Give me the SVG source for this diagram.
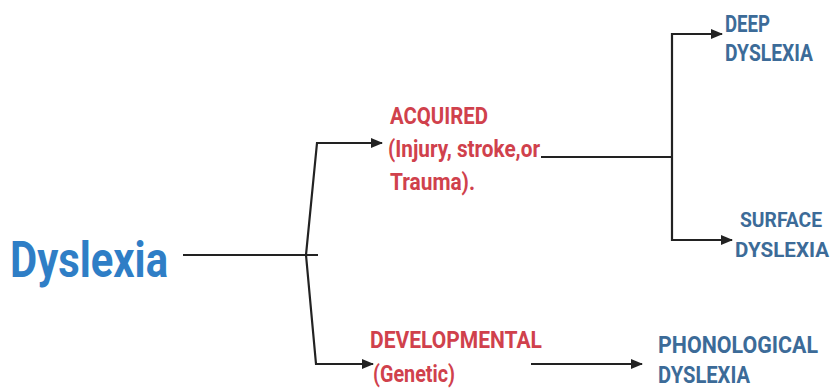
<svg xmlns="http://www.w3.org/2000/svg" width="836" height="388" viewBox="0 0 836 388">
<defs>
<style>
.t{font-family:Roboto,"Liberation Sans",sans-serif;font-weight:700;}
.red{fill:#d0414c;font-size:23px;}
.blue{fill:#3c6b98;font-size:23px;}
.sm{font-size:21px;}
.main{fill:#2f7ec6;font-size:50px;}
.ln{fill:none;stroke:#222;stroke-width:2.2;}
.arr{marker-end:url(#ah);}
</style>
<marker id="ah" markerWidth="12" markerHeight="10" refX="11" refY="5" orient="auto" markerUnits="userSpaceOnUse">
<path d="M0,0 L12,5 L0,10 Z" fill="#222"/>
</marker>
</defs>
<rect width="836" height="388" fill="#fff"/>
<g id="connectors">
<path class="ln" d="M183,255 L318,255"/>
<path class="ln arr" d="M306,255 L317,143 L382,143"/>
<path class="ln arr" d="M306,255 L316,364 L373,364"/>
<path class="ln" d="M541,157 L672,157"/>
<path class="ln arr" d="M672,157 L672,34 L722,34"/>
<path class="ln arr" d="M672,157 L672,240 L732,240"/>
<path class="ln arr" d="M531,364 L642,364"/>
</g>
<g id="dyslexia">
<text class="t main" x="10" y="277" textLength="158" lengthAdjust="spacingAndGlyphs">Dyslexia</text>
</g>
<g id="acquired">
<text class="t red" x="390" y="124" textLength="98" lengthAdjust="spacingAndGlyphs">ACQUIRED</text>
<text class="t red" x="388" y="157" textLength="152" lengthAdjust="spacingAndGlyphs">(Injury, stroke,or</text>
<text class="t red" x="390" y="190" textLength="85" lengthAdjust="spacingAndGlyphs">Trauma).</text>
</g>
<g id="developmental">
<text class="t red" x="370" y="348" textLength="172" lengthAdjust="spacingAndGlyphs">DEVELOPMENTAL</text>
<text class="t red" x="373" y="382" textLength="82" lengthAdjust="spacingAndGlyphs">(Genetic)</text>
</g>
<g id="deep">
<text class="t blue" x="725" y="32" textLength="45" lengthAdjust="spacingAndGlyphs">DEEP</text>
<text class="t blue" x="725" y="61" textLength="88" lengthAdjust="spacingAndGlyphs">DYSLEXIA</text>
</g>
<g id="surface">
<text class="t blue sm" x="740" y="227" textLength="82" lengthAdjust="spacingAndGlyphs">SURFACE</text>
<text class="t blue sm" x="735" y="257" textLength="94" lengthAdjust="spacingAndGlyphs">DYSLEXIA</text>
</g>
<g id="phonological">
<text class="t blue" x="658" y="353" textLength="160" lengthAdjust="spacingAndGlyphs">PHONOLOGICAL</text>
<text class="t blue" x="658" y="383" textLength="92" lengthAdjust="spacingAndGlyphs">DYSLEXIA</text>
</g>
</svg>
